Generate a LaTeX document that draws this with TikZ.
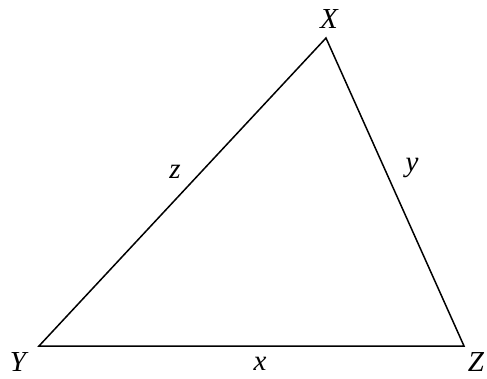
\documentclass[tikz,border=0pt]{standalone}
\usepackage{fontspec}
\setmainfont{Liberation Serif}[ItalicFont={Liberation Serif Italic}]

\begin{document}
\begin{tikzpicture}[x=1pt, y=-1pt, font=\fontsize{29}{34}\selectfont\itshape,
  vlabel/.style={inner sep=0pt},
  side/.style={line width=1.5pt, line join=miter}]

\useasboundingbox (0,0) rectangle (487,378);

% vertices
\coordinate (x) at (326,38);
\coordinate (y) at (39,346);
\coordinate (z) at (464,346);

\draw[side] (x) -- (y) -- (z) -- cycle;

% vertex names
\node[vlabel] (labX) at (329,19) {X};
\node[vlabel] (labY) at (18,362) {Y};
\node[vlabel] (labZ) at (476,362) {Z};

% side names
\node[vlabel] (labz) at (175,172) {z};
\node[vlabel] (laby) at (412,168) {y};
\node[vlabel] (labx) at (260,364) {x};

\end{tikzpicture}
\end{document}
